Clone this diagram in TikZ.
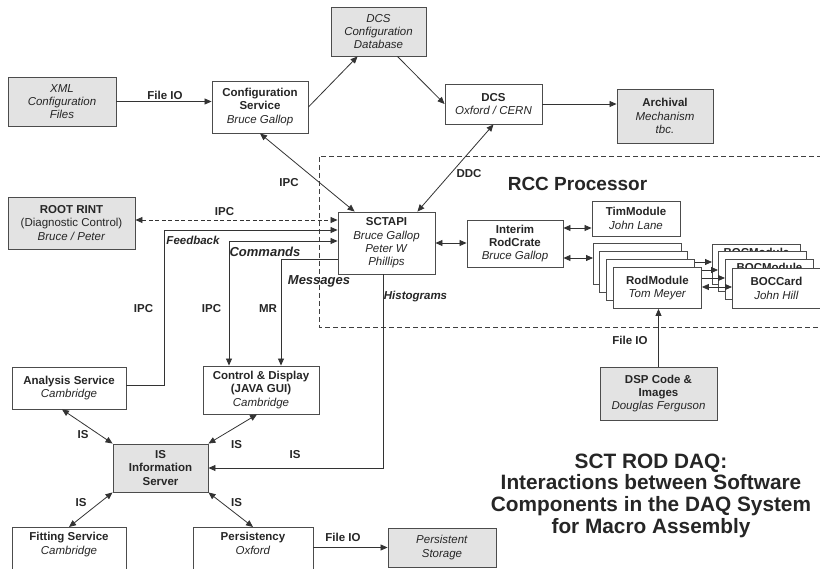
\documentclass[tikz,border=0pt]{standalone}
\usepackage{fontspec}
\setmainfont{Liberation Sans}
\usetikzlibrary{arrows.meta}

\tikzset{
    box/.style={draw=black!70, line width=0.9pt, fill=white, align=center, inner sep=2pt,
        text=black!85, font=\fontsize{11.5}{13.3}\selectfont},
    greybox/.style={box, fill=black!11},
    lbl/.style={inner sep=0pt, text=black!85, font=\fontsize{11.5}{13.3}\selectfont\bfseries},
    biglbl/.style={lbl, font=\fontsize{13}{15}\selectfont\bfseries\itshape},
    link/.style={draw=black!80, line width=0.8pt, -{Triangle[length=7pt,width=6pt]}},
    both/.style={link, {Triangle[length=7pt,width=6pt]}-{Triangle[length=7pt,width=6pt]}},
}

\begin{document}
\begin{tikzpicture}[x=1pt, y=-1pt]
    \path[use as bounding box, fill=white] (0,0) rectangle (820,569);
    \clip (0,0) rectangle (820,569);

    % processor frame, open on the right
    \coordinate (rccA) at (822,156);
    \coordinate (rccB) at (319,156);
    \coordinate (rccC) at (319,327);
    \coordinate (rccD) at (822,327);
    \draw[draw=black!75, line width=0.9pt, dash pattern=on 5pt off 3pt] (rccA) -- (rccB) -- (rccC) -- (rccD);
    \node[lbl, font=\fontsize{19}{22}\selectfont\bfseries] (rcc) at (577.5,183.5) {RCC Processor};

    \node[greybox, minimum width=108pt, minimum height=49pt] (xml) at (62,101.5)
        {\textit{XML}\\\textit{Configuration}\\\textit{Files}};
    \node[box, minimum width=96pt, minimum height=52pt] (cfg) at (260,107)
        {\textbf{Configuration}\\\textbf{Service}\\\textit{Bruce Gallop}};
    \node[greybox, minimum width=95pt, minimum height=49pt] (dcsdb) at (378.5,31.5)
        {\textit{DCS}\\\textit{Configuration}\\\textit{Database}};
    \node[box, minimum width=97pt, minimum height=40pt] (dcs) at (493.5,104)
        {\textbf{DCS}\\\textit{Oxford / CERN}};
    \node[greybox, minimum width=96pt, minimum height=54pt] (arch) at (665,116)
        {\textbf{Archival}\\\textit{Mechanism}\\\textit{tbc.}};
    \node[greybox, minimum width=127pt, minimum height=52pt] (root) at (71.5,223)
        {\textbf{ROOT RINT}\\(Diagnostic Control)\\\textit{Bruce / Peter}};
    \node[box, minimum width=97pt, minimum height=62pt] (sctapi) at (386.5,243)
        {\textbf{SCTAPI}\\\textit{Bruce Gallop}\\\textit{Peter W}\\\textit{Phillips}};
    \node[box, minimum width=96pt, minimum height=47pt] (crate) at (515,243.5)
        {\textbf{Interim}\\\textbf{RodCrate}\\\textit{Bruce Gallop}};
    \node[box, minimum width=88pt, minimum height=35pt] (tim) at (636,218.5)
        {\textbf{TimModule}\\\textit{John Lane}};

    % stacked modules
    \foreach \i/\x/\y in {1/593/243, 2/599/251, 3/606/259}
        \node[box, anchor=north west, minimum width=88pt, minimum height=41pt] (rod\i) at (\x,\y) {};
    \node[box, anchor=north west, minimum width=88pt, minimum height=41pt] (rod4) at (613,267)
        {\textbf{RodModule}\\\textit{Tom Meyer}};
    \foreach \i/\x/\y/\t in {1/712/244/BOCModule, 2/718/251/{}, 3/725/259/BOCModule}
    {
        \node[box, anchor=north west, minimum width=88pt, minimum height=40pt] (boc\i) at (\x,\y) {};
        \node[lbl, anchor=north] at ([yshift=-4pt]boc\i.north) {\t};
    }
    \node[box, anchor=north west, minimum width=88pt, minimum height=40pt] (boc4) at (732,268)
        {\textbf{BOCCard}\\\textit{John Hill}};

    \node[greybox, minimum width=117pt, minimum height=53pt] (dsp) at (658.5,393.5)
        {\textbf{DSP Code \&}\\\textbf{Images}\\\textit{Douglas Ferguson}};
    \node[box, minimum width=114pt, minimum height=42pt] (ana) at (69,388)
        {\textbf{Analysis Service}\\\textit{Cambridge}};
    \node[box, minimum width=116pt, minimum height=48pt] (gui) at (261,390)
        {\textbf{Control \& Display}\\\textbf{(JAVA GUI)}\\\textit{Cambridge}};
    \node[greybox, minimum width=95pt, minimum height=48pt] (isrv) at (160.5,468)
        {\textbf{IS}\\\textbf{Information}\\\textbf{Server}};
    \node[box, anchor=north, minimum width=114pt, inner ysep=5pt, text depth=30pt] (fit) at (69,527)
        {\textbf{Fitting Service}\\\textit{Cambridge}};
    \node[box, anchor=north, minimum width=120pt, inner ysep=5pt, text depth=30pt] (pers) at (253,527)
        {\textbf{Persistency}\\\textit{Oxford}};
    \node[greybox, minimum width=108pt, minimum height=39pt] (store) at (442,547.5)
        {\textit{Persistent}\\\textit{Storage}};

    \node[lbl, align=center, font=\fontsize{20.8}{21.7}\selectfont\bfseries] (title) at (651,495.5)
        {SCT ROD DAQ:\\Interactions between Software\\Components in the DAQ System\\for Macro Assembly};

    % configuration and DCS side
    \draw[link] (xml.east) -- (xml.east -| cfg.west);
    \draw[link] (cfg.east) -- ([xshift=27pt]dcsdb.south west);
    \draw[link] ([xshift=-29pt]dcsdb.south east) -- (dcs.west);
    \draw[link] (dcs.east) -- (dcs.east -| arch.west);
    \draw[both] (cfg.south) -- ([xshift=17pt]sctapi.north west);
    \draw[both] (dcs.south) -- ([xshift=-18pt]sctapi.north east);
    \draw[both, dash pattern=on 4pt off 2.5pt] ([yshift=3pt]root.east) -- ([yshift=3pt]root.east -| sctapi.west);

    % links into SCTAPI
    \coordinate (fbk) at (164,230);
    \coordinate (cmd) at (229,241);
    \coordinate (msg) at (281,259);
    \draw[link] ([yshift=3pt]ana.east) -| (fbk) -- (fbk -| sctapi.west);
    \draw[both] (cmd -| sctapi.west) -| (cmd |- gui.north);
    \draw[link] (msg -| sctapi.west) -| (msg |- gui.north);
    \draw[link] ([xshift=-3.5pt]sctapi.south) |- (isrv.east);

    % crate contents
    \draw[both] (sctapi.east) -- (sctapi.east -| crate.west);
    \draw[both] ([yshift=15.5pt]crate.east) -- ([yshift=15.5pt]crate.east -| tim.west);
    \draw[both] ([yshift=-14.5pt]crate.east) -- ([yshift=-14.5pt]crate.east -| rod1.west);
    \draw[link] (rod3.east |- 0,262) -- (boc1.west |- 0,262);
    \draw[link] (rod4.east |- 0,270) -- (boc2.west |- 0,270);
    \draw[link] (rod4.east |- 0,278) -- (boc3.west |- 0,278);
    \draw[both] (rod4.east |- 0,287) -- (boc4.west |- 0,287);
    \draw[link] (dsp.north) -- (dsp.north |- rod4.south);

    % information server
    \draw[both] ([xshift=-7pt]ana.south) -- (isrv.north west);
    \draw[both] ([xshift=-4pt]gui.south) -- (isrv.north east);
    \draw[both] (isrv.south west) -- (fit.north);
    \draw[both] (isrv.south east) -- (pers.north);
    \draw[link] (pers.east |- store.west) -- (store.west);

    % connector labels
    \node[lbl] (l1) at (165,95.5) {File IO};
    \node[lbl] (l2) at (289,183) {IPC};
    \node[lbl] (l3) at (469,174) {DDC};
    \node[lbl] (l4) at (224.5,212) {IPC};
    \node[lbl, font=\fontsize{11.5}{13.3}\selectfont\bfseries\itshape] (l5) at (193,240) {Feedback};
    \node[biglbl] (l6) at (265,252) {Commands};
    \node[biglbl] (l7) at (319,281.5) {Messages};
    \node[lbl, font=\fontsize{11.5}{13.3}\selectfont\bfseries\itshape] (l8) at (415.5,296.5) {Histograms};
    \node[lbl] (l9) at (143.5,309) {IPC};
    \node[lbl] (l10) at (211.5,309) {IPC};
    \node[lbl] (l11) at (268,309) {MR};
    \node[lbl] (l12) at (630,340) {File IO};
    \node[lbl] (l13) at (295,455) {IS};
    \node[lbl] (l14) at (83,435) {IS};
    \node[lbl] (l15) at (236.5,445) {IS};
    \node[lbl] (l16) at (81,503) {IS};
    \node[lbl] (l17) at (236.5,503) {IS};
    \node[lbl] (l18) at (343,537) {File IO};
\end{tikzpicture}
\end{document}
